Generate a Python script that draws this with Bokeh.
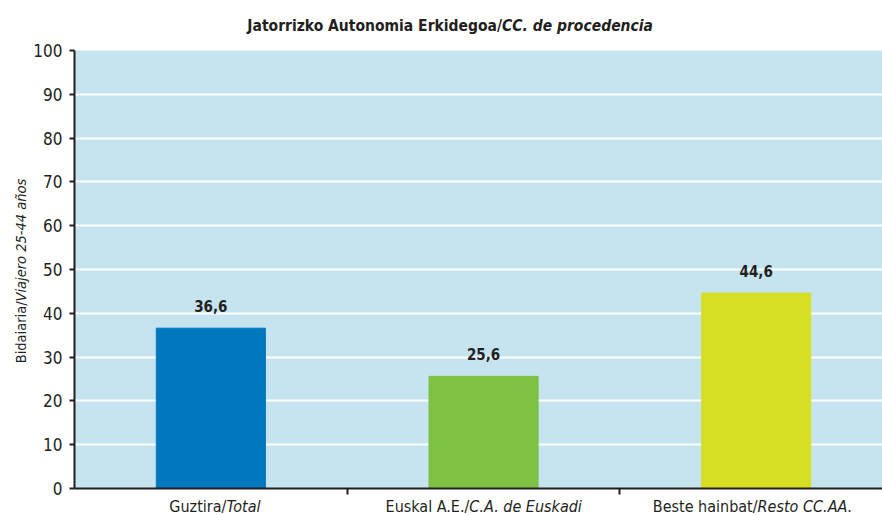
from bokeh.plotting import figure
from bokeh.models import Range1d, FixedTicker, Label, ColumnDataSource
from bokeh.core.properties import value
from bokeh.embed import file_html
from bokeh.resources import INLINE

categories = ["Guztira/Total", "Euskal A.E./C.A. de Euskadi", "Beste hainbat/Resto CC.AA."]
cat_upright = ["Guztira/", "Euskal A.E./", "Beste hainbat/"]
cat_italic = ["Total", "C.A. de Euskadi", "Resto CC.AA."]
values = [36.6, 25.6, 44.6]
colors = ["#0077BF", "#7DC242", "#D6DF23"]
y_ticks = [0, 10, 20, 30, 40, 50, 60, 70, 80, 90, 100]
title_upright = "Jatorrizko Autonomia Erkidegoa/"
title_italic = "CC. de procedencia"
ylab_upright = "Bidaiaria/"
ylab_italic = "Viajero 25-44 años"

FONT = "'Liberation Sans Narrow', 'DejaVu Sans Condensed', 'Arial Narrow', sans-serif"
DARK = "#231F20"

xs = [i + 0.5 for i in range(len(categories))]
labels = [f"{v:.1f}".replace(".", ",") for v in values]
src = ColumnDataSource(dict(x=xs, top=values, color=colors, label=labels))

# the canvas is taller than the 515px window; the part below the window is empty
p = figure(width=882, height=820, output_backend="svg", toolbar_location=None,
           x_range=Range1d(0, 2.963), y_range=Range1d(0, 100),
           min_border_left=74, min_border_right=0, min_border_top=50, min_border_bottom=332)
p.background_fill_color = "#C5E4EF"
p.border_fill_color = "white"
p.outline_line_color = None

p.vbar(x="x", top="top", width=0.4, color="color", source=src)
p.text(x="x", y="top", text="label", source=src, text_align="center",
       text_baseline="alphabetic", y_offset=-22, text_font=value(FONT),
       text_font_size="15px", text_font_style="bold", text_color=DARK)

p.xgrid.visible = False
p.ygrid.ticker = FixedTicker(ticks=y_ticks[1:-1])
p.ygrid.grid_line_color = "white"
p.ygrid.grid_line_width = 2

p.yaxis.ticker = FixedTicker(ticks=y_ticks)
p.yaxis.axis_line_width = 2
p.yaxis.axis_line_color = DARK
p.yaxis.major_tick_line_color = DARK
p.yaxis.major_tick_line_width = 2
p.yaxis.major_tick_out = 5
p.yaxis.major_tick_in = 0
p.yaxis.minor_tick_line_color = None
p.yaxis.major_label_text_font = FONT
p.yaxis.major_label_text_font_size = "17px"
p.yaxis.major_label_text_color = DARK
p.yaxis.major_label_standoff = 7

# bottom axis: line and category boundary ticks only
xa = p.xaxis[0]
xa.ticker = FixedTicker(ticks=[1, 2])
xa.major_label_overrides = {1: "", 2: ""}
xa.major_label_text_font_size = "0px"
xa.axis_line_width = 2
xa.axis_line_color = DARK
xa.major_tick_line_color = DARK
xa.major_tick_line_width = 2
xa.major_tick_out = 6
xa.major_tick_in = 0
xa.minor_tick_line_color = None

# category labels: upright part right-aligned, italic part left-aligned at the split
splits = [0.557, 1.448, 2.505]
for s, up, it in zip(splits, cat_upright, cat_italic):
    p.add_layout(Label(x=s, y=-2.05, text=up, text_align="right", text_baseline="top",
                       text_font=FONT, text_font_size="16px", text_color=DARK), "below")
    p.add_layout(Label(x=s, y=-2.05, text=it, text_align="left", text_baseline="top",
                       text_font=FONT, text_font_size="16px", text_font_style="italic",
                       text_color=DARK), "below")

# y axis title
p.add_layout(Label(x=-0.198, y=42.7, text=ylab_upright, text_align="right", angle=1.5708,
                   text_baseline="middle", text_font=FONT, text_font_size="14.5px",
                   text_color=DARK), "below")
p.add_layout(Label(x=-0.198, y=42.7, text=ylab_italic, text_align="left", angle=1.5708,
                   text_baseline="middle", text_font=FONT, text_font_size="14.5px",
                   text_font_style="italic", text_color=DARK), "below")

# title
tx = 1.568
p.add_layout(Label(x=tx, y=105.7, text=title_upright,
                   text_align="right", text_baseline="middle", text_font=FONT,
                   text_font_size="15.5px", text_font_style="bold", text_color=DARK), "above")
p.add_layout(Label(x=tx, y=105.7, text=title_italic,
                   text_align="left", text_baseline="middle", text_font=FONT,
                   text_font_size="15.5px", text_font_style="bold italic", text_color=DARK), "above")

html = file_html(p, INLINE)
html = html.replace("<head>", "<head><style>html,body{overflow:hidden;}</style>", 1)
open("out.html", "w").write(html)
